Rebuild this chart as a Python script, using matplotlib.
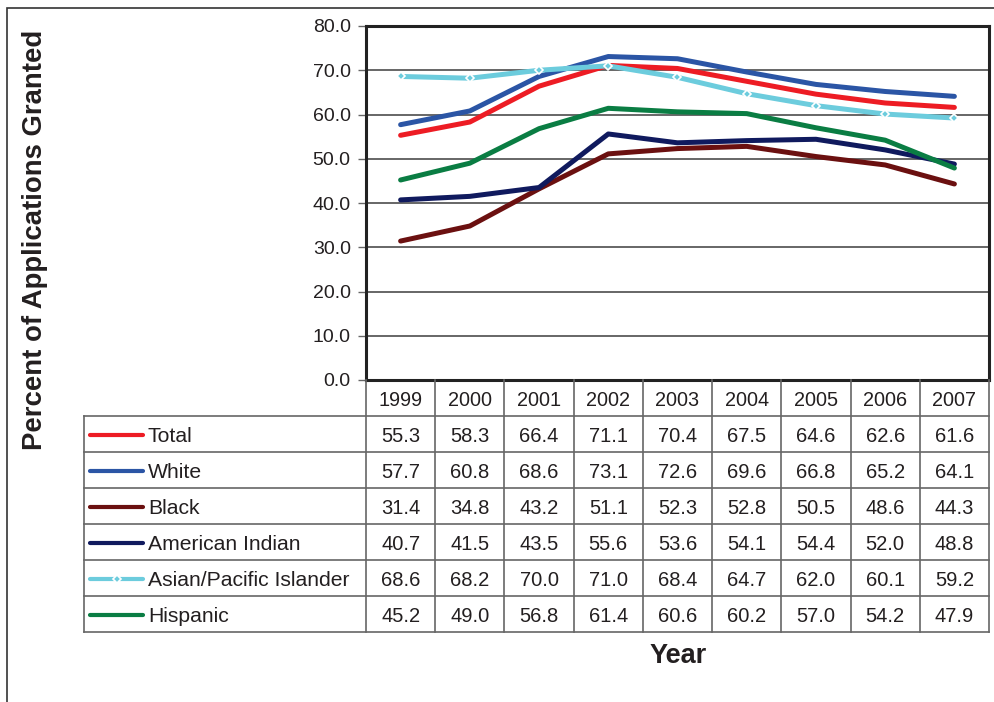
import matplotlib
matplotlib.use("Agg")
import matplotlib.pyplot as plt
from matplotlib.patches import Rectangle

plt.rcParams["font.family"] = ["Liberation Sans", "DejaVu Sans"]

years = ["1999", "2000", "2001", "2002", "2003", "2004", "2005", "2006", "2007"]
series_names = ["Total", "White", "Black", "American Indian", "Asian/Pacific Islander", "Hispanic"]
total = [55.3, 58.3, 66.4, 71.1, 70.4, 67.5, 64.6, 62.6, 61.6]
white = [57.7, 60.8, 68.6, 73.1, 72.6, 69.6, 66.8, 65.2, 64.1]
black = [31.4, 34.8, 43.2, 51.1, 52.3, 52.8, 50.5, 48.6, 44.3]
american_indian = [40.7, 41.5, 43.5, 55.6, 53.6, 54.1, 54.4, 52.0, 48.8]
asian_pacific = [68.6, 68.2, 70.0, 71.0, 68.4, 64.7, 62.0, 60.1, 59.2]
hispanic = [45.2, 49.0, 56.8, 61.4, 60.6, 60.2, 57.0, 54.2, 47.9]

series_values = [total, white, black, american_indian, asian_pacific, hispanic]
colors = ["#ED1C24", "#2B55A5", "#6B1010", "#101A5E", "#6CCCDD", "#0A7D43"]

W, H = 995, 702
txt = "#231F20"
grid_c = "#4D4D4D"
table_c = "#666666"

fig = plt.figure(figsize=(W / 100, H / 100), dpi=100)

# outer frame (runs off the right and bottom edges)
fig.patches.append(Rectangle((7 / W, -0.1), 1.2, 1 - 8 / H + 0.1, transform=fig.transFigure,
                             fill=False, edgecolor="#333333", linewidth=1.2))

# plot area in pixels
px_left, px_right, px_top, px_bottom = 366, 989, 26, 380
ax = fig.add_axes([px_left / W, 1 - px_bottom / H, (px_right - px_left) / W, (px_bottom - px_top) / H])

x = list(range(len(years)))
for name, vals, c in zip(series_names, series_values, colors):
    if name == "Asian/Pacific Islander":
        ax.plot(x, vals, color=c, lw=3.6, marker="D", ms=4.5, mfc=c, mec="white", mew=1.2,
                solid_capstyle="round", zorder=3)
    else:
        ax.plot(x, vals, color=c, lw=3.6, solid_capstyle="round", solid_joinstyle="round", zorder=3)

ax.set_xlim(-0.5, len(years) - 0.5)
ax.set_ylim(0, 80)
ax.set_yticks(range(0, 81, 10))
ax.set_yticklabels([f"{v:.1f}" for v in range(0, 81, 10)], fontsize=14, color=txt)
ax.set_xticks([])
ax.yaxis.grid(True, color=grid_c, lw=1.2)
ax.set_axisbelow(True)
ax.tick_params(axis="y", length=6, width=1, color=table_c, pad=5)
for s in ax.spines.values():
    s.set_color("#222222")
    s.set_linewidth(2.2)

# data table below the plot
tab_left, tab_bottom = 84, 632
col_w = (px_right - px_left) / len(years)
label_w = (px_left - tab_left) / col_w
n_rows = len(series_names) + 1
tab = fig.add_axes([tab_left / W, 1 - tab_bottom / H, (px_right - tab_left) / W, (tab_bottom - px_bottom) / H])
x0 = -0.5 - label_w
tab.set_xlim(x0, len(years) - 0.5)
tab.set_ylim(n_rows, 0)
tab.axis("off")

def px_to_col(px):
    return x0 + (px - tab_left) / col_w

for r in range(1, n_rows + 1):
    tab.plot([x0, len(years) - 0.5], [r, r], color=table_c, lw=1.2, clip_on=False)
tab.plot([x0, x0], [1, n_rows], color=table_c, lw=1.2, clip_on=False)
for k in range(len(years) + 1):
    tab.plot([k - 0.5, k - 0.5], [0, n_rows], color=table_c, lw=1.2, clip_on=False)

for i, yr in enumerate(years):
    tab.text(i, 0.56, yr, ha="center", va="center", fontsize=14.3, color=txt)

for r, (name, vals, c) in enumerate(zip(series_names, series_values, colors), start=1):
    yc = r + 0.58
    tab.plot([px_to_col(90), px_to_col(143)], [r + 0.52, r + 0.52], color=c, lw=3,
             solid_capstyle="round", clip_on=False)
    if name == "Asian/Pacific Islander":
        tab.plot([(px_to_col(90) + px_to_col(143)) / 2], [r + 0.52], marker="D", ms=4, color=c,
                 mec="white", mew=1.2, clip_on=False)
    tab.text(px_to_col(148), yc, name, ha="left", va="center", fontsize=15.2, color=txt)
    for i, v in enumerate(vals):
        tab.text(i, yc, f"{v:.1f}", ha="center", va="center", fontsize=14.5, color=txt)

fig.text(678 / W, 1 - 656 / H, "Year", ha="center", va="center", fontsize=19.5,
         fontweight="bold", color=txt)
fig.text(35 / W, 1 - 240 / H, "Percent of Applications Granted", ha="center", va="center",
         rotation=90, fontsize=19.8, fontweight="bold", color=txt)

fig.savefig("out.png", dpi=100)
